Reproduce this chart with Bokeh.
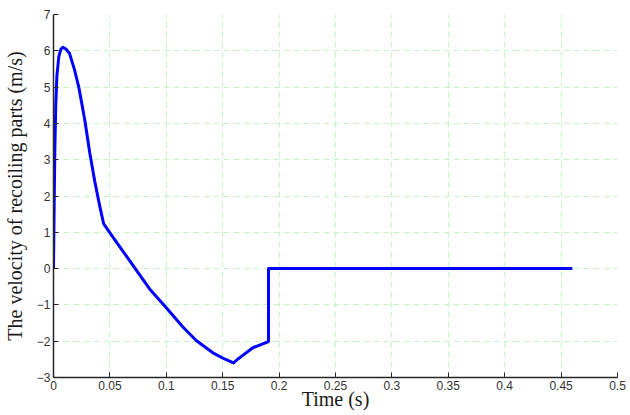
from bokeh.plotting import figure
from bokeh.models import FixedTicker, Range1d
from bokeh.embed import file_html
from bokeh.resources import INLINE

# data
time_s = [0, 0.0005, 0.0012, 0.002, 0.003, 0.0047, 0.0065, 0.0083, 0.011, 0.0142,
          0.0186, 0.0224, 0.0277, 0.0321, 0.0366, 0.041, 0.0445, 0.0558, 0.0675, 0.072,
          0.0852, 0.0994, 0.1147, 0.1265, 0.1413, 0.1516, 0.1596, 0.1635, 0.1678, 0.1767,
          0.1906, 0.1906, 0.46]
velocity = [0, 1.5, 3.3, 4.5, 5.3, 5.84, 6.04, 6.10, 6.05, 5.93,
            5.48, 5.0, 4.1, 3.2, 2.4, 1.72, 1.23, 0.73, 0.22, 0.02,
            -0.56, -1.06, -1.61, -1.98, -2.32, -2.49, -2.60, -2.49, -2.39, -2.18,
            -2.01, 0.0, 0.0]

x_ticks = [0, 0.05, 0.1, 0.15, 0.2, 0.25, 0.3, 0.35, 0.4, 0.45, 0.5]
x_tick_labels = ["0", "0.05", "0.1", "0.15", "0.2", "0.25", "0.3", "0.35", "0.4", "0.45", "0.5"]
y_ticks = [-3, -2, -1, 0, 1, 2, 3, 4, 5, 6, 7]

p = figure(width=630, height=415, output_backend="svg", toolbar_location=None,
           x_range=Range1d(0, 0.5), y_range=Range1d(-3, 7),
           min_border_left=52, min_border_right=13, min_border_top=14, min_border_bottom=38)

p.line(time_s, velocity, line_color="#0000ff", line_width=3, line_join="round")

p.outline_line_color = None
p.background_fill_color = "white"
p.border_fill_color = "white"

for ax in (p.xaxis[0], p.yaxis[0]):
    ax.axis_line_color = "#262626"
    ax.axis_line_width = 1.5
    ax.major_tick_line_color = "#262626"
    ax.major_tick_in = 5
    ax.major_tick_out = 0
    ax.minor_tick_line_color = None
    ax.major_label_text_font = "Liberation Sans"
    ax.major_label_text_font_size = "12px"
    ax.major_label_text_color = "#333333"
    ax.axis_label_text_font = "Liberation Serif"
    ax.axis_label_text_font_size = "20px"
    ax.axis_label_text_font_style = "normal"
    ax.axis_label_text_color = "#1a1a1a"

p.xaxis[0].ticker = FixedTicker(ticks=x_ticks)
p.xaxis[0].major_label_overrides = {t: l for t, l in zip(x_ticks, x_tick_labels)}
p.yaxis[0].ticker = FixedTicker(ticks=y_ticks)
p.xaxis[0].axis_label = "Time (s)"
p.yaxis[0].axis_label = "The velocity of recoiling parts (m/s)"
p.xaxis[0].major_label_standoff = 3
p.xaxis[0].axis_label_standoff = -5
p.yaxis[0].major_label_standoff = 3
p.yaxis[0].axis_label_standoff = 8

for g in (p.xgrid[0], p.ygrid[0]):
    g.grid_line_color = "#c6f5c6"
    g.grid_line_dash = "6 4"
    g.grid_line_width = 1

open("out.html", "w").write(file_html(p, INLINE))
